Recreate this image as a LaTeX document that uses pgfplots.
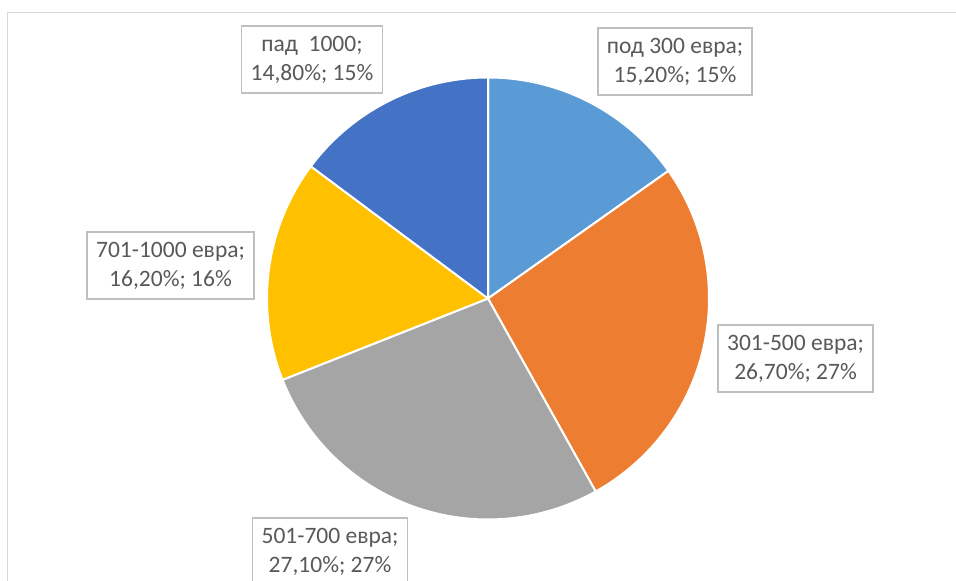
\documentclass[border=0pt]{standalone}
\usepackage{fontspec}
\setmainfont{Carlito}
\usepackage{pgfplots}
\usepackage{pgfplotstable}
\pgfplotsset{compat=1.18}
\definecolor{c0}{HTML}{5B9BD5}
\definecolor{c1}{HTML}{ED7D31}
\definecolor{c2}{HTML}{A5A5A5}
\definecolor{c3}{HTML}{FFC000}
\definecolor{c4}{HTML}{4472C4}
\definecolor{txt}{HTML}{595959}
\definecolor{framec}{HTML}{D9D9D9}
\definecolor{lbl}{HTML}{BFBFBF}

\pgfplotstableread[col sep=comma]{
idx,value
0,15.2
1,26.7
2,27.1
3,16.2
4,14.8
}\pietable

\begin{document}
\begin{tikzpicture}
\begin{axis}[scale only axis, width=478pt, height=290.5pt,
  xmin=0, xmax=956, ymin=0, ymax=581, axis lines=none, clip=true]
\def\cum{0}
\pgfplotsforeachungrouped \i in {0,...,4}{%
  \pgfplotstablegetelem{\i}{value}\of\pietable
  \let\v\pgfplotsretval
  \pgfmathsetmacro{\sa}{90-3.6*\cum}%
  \pgfmathsetmacro{\ea}{90-3.6*(\cum+\v)}%
  \pgfmathsetmacro{\cum}{\cum+\v}%
  \edef\temp{\noexpand\fill[c\i, draw=white, line width=1pt, line join=round]
    (axis cs:488,282.5) -- ++(\sa:110.5pt) arc[start angle=\sa, end angle=\ea, radius=110.5pt] -- cycle;}%
  \temp
}
\draw[framec, line width=0.75pt] (axis cs:7.5,-20) -- (axis cs:7.5,568.5) -- (axis cs:990,568.5);
\tikzset{lab/.style={draw=lbl, line width=0.75pt, fill=white, text=txt, align=center,
  font=\fontsize{11.75}{14.5}\selectfont, inner xsep=4.5pt, minimum height=33.5pt}}
\node[lab] at (axis cs:675,519.5) {под 300 евра;\\15,20\%; 15\%};
\node[lab] at (axis cs:795.5,222.5) {301-500 евра;\\26,70\%; 27\%};
\node[lab] at (axis cs:330,29.5) {501-700 евра;\\27,10\%; 27\%};
\node[lab] at (axis cs:170.5,315.5) {701-1000 евра;\\16,20\%; 16\%};
\node[lab] at (axis cs:312,521.5) {пад \ 1000;\\14,80\%; 15\%};
\end{axis}
\pgfresetboundingbox
\useasboundingbox (current axis.south west) rectangle (current axis.north east);
\end{tikzpicture}
\end{document}
